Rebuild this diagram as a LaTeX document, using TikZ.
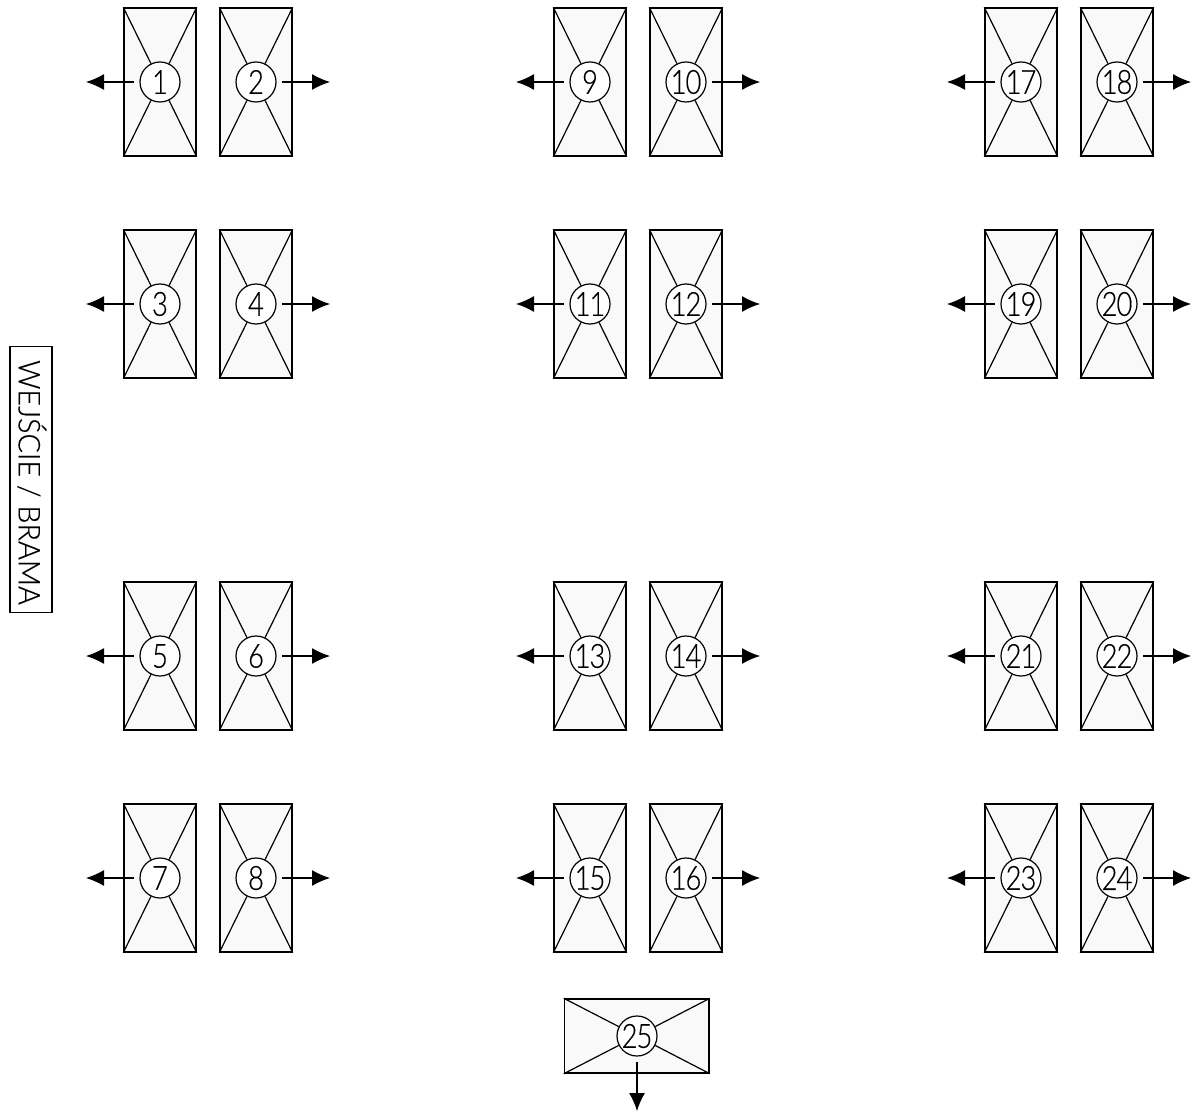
\documentclass[tikz,border=0pt]{standalone}
\usepackage{fontspec}
\setmainfont{Lato Light}
\newfontfamily\numfont[FakeStretch=0.82,LetterSpace=-3,FakeBold=0.4]{Lato Light}
\newfontfamily\signfont[FakeStretch=0.96,FakeBold=0.4]{Lato Light}
\usetikzlibrary{arrows.meta}
\tikzset{
  x=0.75pt,y=-0.75pt,
  panel/.style={draw=black,fill=black!2.5,line width=1.1pt,inner sep=0pt,minimum width=54pt,minimum height=111pt},
  widepanel/.style={panel,minimum width=108.5pt,minimum height=55.5pt},
  hub/.style={circle,draw=black,fill=white,line width=0.9pt,inner sep=0pt,minimum size=30pt,font=\numfont\fontsize{25}{25}\selectfont},
  ray/.style={draw=black,line width=0.9pt},
  exit/.style={draw=black,line width=0.9pt,-{Latex[length=13.5pt,width=12pt]},shorten <=4.2pt},
  sign/.style={draw=black,fill=white,line width=0.8pt,rotate=-90,minimum width=199pt,minimum height=31.5pt,inner sep=0pt,font=\signfont\fontsize{22.5}{22.5}\selectfont}
}
\newcommand{\bay}[5]{% id, centre x, centre y, arrow end x, label
  \node[panel] (p#1) at (#2,#3) {};
  \coordinate (e#1) at (#4,#3);
  \node[hub] (h#1) at (#2,#3) {#5};
  \foreach \c in {north west,north east,south west,south east}{\draw[ray] (p#1.\c) -- (h#1);}
  \draw[exit] (h#1) -- (e#1);
}
\begin{document}
\begin{tikzpicture}
\useasboundingbox (0,0) rectangle (1191,1112);
\foreach \n/\cx/\ex/\cy in {
  1/160/86/82, 2/256/330/82, 3/160/86/304, 4/256/330/304,
  5/160/86/656, 6/256/330/656, 7/160/86/878, 8/256/330/878,
  9/590/516/82, 10/686/760/82, 11/590/516/304, 12/686/760/304,
  13/590/516/656, 14/686/760/656, 15/590/516/878, 16/686/760/878,
  17/1021/947/82, 18/1117/1191/82, 19/1021/947/304, 20/1117/1191/304,
  21/1021/947/656, 22/1117/1191/656, 23/1021/947/878, 24/1117/1191/878}{
  \bay{\n}{\cx}{\cy}{\ex}{\n}
}
\node[widepanel] (p25) at (636.8,1036) {};
\coordinate (e25) at (637,1111);
\node[hub] (h25) at (637,1036) {25};
\foreach \c in {north west,north east,south west,south east}{\draw[ray] (p25.\c) -- (h25);}
\draw[exit] (h25) -- (e25);
\node[sign] (gate) at (31,479.5) {\hspace*{4.5pt}\raisebox{2.2pt}{WEJŚCIE / BRAMA}};
\end{tikzpicture}
\end{document}
